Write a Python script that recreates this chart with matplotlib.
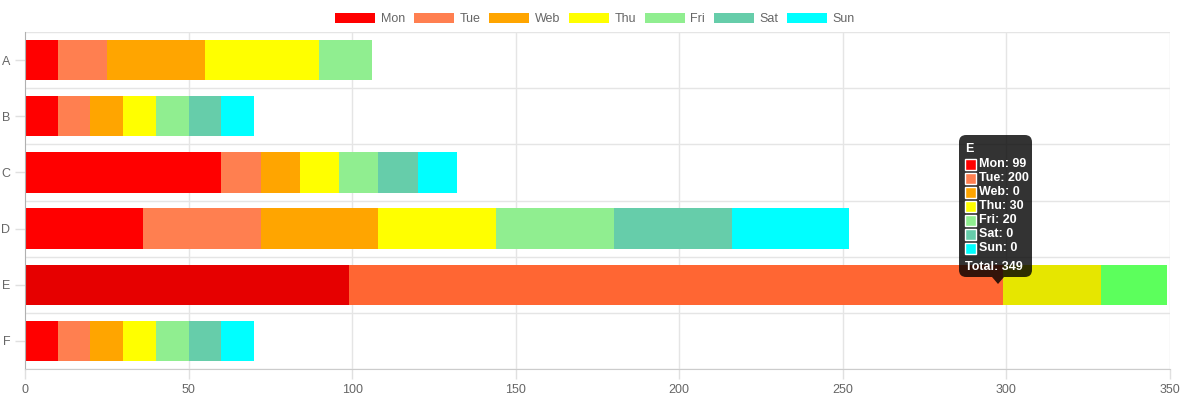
import matplotlib.pyplot as plt
from matplotlib.patches import FancyBboxPatch, Rectangle, Polygon
import numpy as np

plt.rcParams['font.family'] = ['Liberation Sans', 'DejaVu Sans']

# data
categories = ['A', 'B', 'C', 'D', 'E', 'F']
days = ['Mon', 'Tue', 'Web', 'Thu', 'Fri', 'Sat', 'Sun']
mon = [10, 10, 60, 36, 99, 10]
tue = [15, 10, 12, 36, 200, 10]
web = [30, 10, 12, 36, 0, 10]
thu = [35, 10, 12, 36, 30, 10]
fri = [16, 10, 12, 36, 20, 10]
sat = [0, 10, 12, 36, 0, 10]
sun = [0, 10, 12, 36, 0, 10]
series = [mon, tue, web, thu, fri, sat, sun]

colors = ['#ff0000', '#ff7f50', '#ffa500', '#ffff00', '#90ee90', '#66cdaa', '#00ffff']
# hover colours for the highlighted row (E)
hover = ['#e60000', '#ff6633', '#e69500', '#e6e600', '#5cff5c', '#4dd9a6', '#00e6e6']
hovered = 'E'

W, H = 1190, 412
fig = plt.figure(figsize=(W / 100, H / 100), dpi=100)
ax = fig.add_axes([25 / W, (H - 369) / H, (1170 - 25) / W, (369 - 32) / H])

y = np.arange(len(categories))
left = np.zeros(len(categories))
for i, vals in enumerate(series):
    cols = [hover[i] if c == hovered else colors[i] for c in categories]
    ax.barh(y, vals, left=left, height=0.72, color=cols, label=days[i], linewidth=0)
    left += np.array(vals)

ax.set_xlim(0, 350)
ax.set_ylim(len(categories) - 0.5, -0.5)
ax.set_yticks(y)
ax.set_yticklabels(categories)
ax.set_xticks(np.arange(0, 351, 50))
ax.tick_params(colors='#666666', labelsize=9, length=7, width=1)
ax.tick_params(axis='both', color='#e0e0e0')
ax.tick_params(axis='x', pad=4)

# grid
ax.set_axisbelow(True)
for xv in range(50, 351, 50):
    ax.axvline(xv, color='#e5e5e5', lw=1, zorder=0)
for yv in np.arange(-0.5, len(categories), 1):
    ax.axhline(yv, color='#e5e5e5', lw=1, zorder=0)
for s in ['top', 'right']:
    ax.spines[s].set_visible(False)
ax.spines['left'].set_color('#b0b0b0')
ax.spines['bottom'].set_color('#cccccc')

leg = fig.legend(loc='upper center', bbox_to_anchor=(0.5, 1.0), ncol=7, frameon=False,
                 fontsize=9, handlelength=3.2, handleheight=0.9, handletextpad=0.45,
                 columnspacing=0.7, labelcolor='#666666', borderaxespad=0.6)

# tooltip (pixel coords from top-left)
def px(x, yy):
    return (x / W, 1 - yy / H)

bx, by, bw, bh = 959, 135, 73, 142
box = FancyBboxPatch(px(bx, by + bh), bw / W, bh / H, boxstyle='round,pad=0,rounding_size=0.006',
                     transform=fig.transFigure, facecolor='black', alpha=0.8, edgecolor='none',
                     mutation_aspect=W / H)
fig.patches.append(box)
tri = Polygon([px(992, by + bh), px(1004, by + bh), px(998, by + bh + 7)], closed=True,
              transform=fig.transFigure, facecolor='black', alpha=0.8, edgecolor='none')
fig.patches.append(tri)

idx = categories.index(hovered)
fig.text(*px(965, 149), hovered, color='white', fontsize=9, fontweight='bold', va='center')
total = 0
for i, d in enumerate(days):
    yy = 164 + i * 14
    v = series[i][idx]
    total += v
    fig.patches.append(Rectangle(px(965, yy + 5.5), 11 / W, 11 / H, transform=fig.transFigure,
                                 facecolor=colors[i], edgecolor='white', lw=1))
    fig.text(*px(979, yy), f'{d}: {v}', color='white', fontsize=9, fontweight='bold', va='center')
fig.text(*px(965, 267), f'Total: {total}', color='white', fontsize=9, fontweight='bold', va='center')

fig.savefig('out.png', dpi=100)
